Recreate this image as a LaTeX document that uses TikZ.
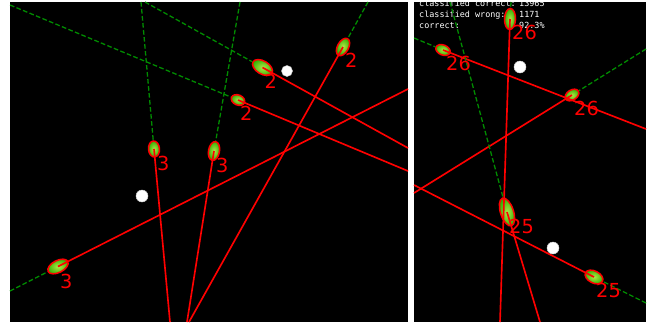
\documentclass[tikz,border=0pt]{standalone}
\usepackage{fontspec}
\setmainfont{DejaVu Sans}
\newfontfamily\statfont{DejaVu Sans Mono}
\usetikzlibrary{shapes.geometric}
\newlength\pxu
\setlength\pxu{0.03cm}
\definecolor{hintgreen}{RGB}{0,140,0}
\definecolor{blobinner}{RGB}{175,230,70}
\definecolor{blobouter}{RGB}{50,175,0}
\tikzset{
  blob/.style={ellipse, draw=red, line width=1.3pt, inner sep=0pt, shading=radial, inner color=blobinner, outer color=blobouter},
  redline/.style={red, line width=1.4pt},
  greenline/.style={hintgreen, dash pattern=on 4pt off 2pt, line width=1.1pt},
  tally/.style={text=red, font=\fontsize{16.5}{17}\selectfont, anchor=base west, inner sep=0pt},
  whitedot/.style={circle, fill=white, draw=gray!40, inner sep=0pt, minimum size=11\pxu},
  stats/.style={text=white, font=\statfont\fontsize{7.2}{8}\selectfont, anchor=base west, inner sep=0pt}
}
\begin{document}
\begin{tikzpicture}[x=\pxu, y=-\pxu]
    \useasboundingbox (0,0) rectangle (654,322);
    \fill[white] (0,0) rectangle (654,322);
    \fill[black] (10,2) rectangle (408,322);
    \fill[black] (414,2) rectangle (646,322);

    % counters in the right panel
    \begin{scope}
        \clip (414,2) rectangle (646,322);
        \node[stats] (s1) at (419,6) {classified correct:};
        \node[stats] (v1) at (519,6) {13965};
        \node[stats] (s2) at (419,17) {classified wrong:};
        \node[stats] (v2) at (519,17) {1171};
        \node[stats] (s3) at (419,28) {correct:};
        \node[stats] (v3) at (519,28) {92.3\%};
    \end{scope}

    % left panel
    \node[blob, minimum width=22\pxu, minimum height=13\pxu, rotate=-31] (e1) at (262.5,67.5) {};
    \node[blob, minimum width=19\pxu, minimum height=11\pxu, rotate=61] (e2) at (343,47) {};
    \node[blob, minimum width=14\pxu, minimum height=10\pxu, rotate=-23] (e3) at (238,100) {};
    \node[blob, minimum width=16\pxu, minimum height=11\pxu, rotate=-85] (e4) at (154,149) {};
    \node[blob, minimum width=19\pxu, minimum height=11\pxu, rotate=80] (e5) at (214,151) {};
    \node[blob, minimum width=22\pxu, minimum height=12\pxu, rotate=27] (e6) at (58,266.5) {};

    \coordinate (g1) at (145,2);   \coordinate (r1) at (408,148);
    \coordinate (g2) at (368,2);   \coordinate (r2) at (189,322);
    \coordinate (g3) at (10,5);    \coordinate (r3) at (408,171);
    \coordinate (g4) at (141,2);   \coordinate (r4) at (170,322);
    \coordinate (g5) at (240,2);   \coordinate (r5) at (187,322);
    \coordinate (g6) at (10,291);  \coordinate (r6) at (408,89);

    % right panel
    \node[blob, minimum width=21\pxu, minimum height=11\pxu, rotate=88] (e7) at (510,19) {};
    \node[blob, minimum width=15\pxu, minimum height=10\pxu, rotate=-22] (e8) at (443,50) {};
    \node[blob, minimum width=15\pxu, minimum height=10\pxu, rotate=32] (e9) at (572,95) {};
    \node[blob, minimum width=29\pxu, minimum height=13\pxu, rotate=-72] (e10) at (507,212) {};
    \node[blob, minimum width=19\pxu, minimum height=12\pxu, rotate=-27] (e11) at (594,277) {};

    \coordinate (g7) at (511,2);   \coordinate (r7) at (500,322);
    \coordinate (g8) at (414,38);  \coordinate (r8) at (646,129);
    \coordinate (g9) at (646,49);  \coordinate (r9) at (414,193);
    \coordinate (g10) at (450,2);  \coordinate (r10) at (540,322);
    \coordinate (g11) at (646,303); \coordinate (r11) at (414,185);

    \foreach \i in {1,...,11} {
        \draw[greenline] (g\i) -- (e\i);
        \draw[redline] (e\i.center) -- (r\i);
    }

    % labels
    \node[tally] (n1) at ([shift={(2,20.5)}]e1.center) {2};
    \node[tally] (n2) at ([shift={(2,20.5)}]e2.center) {2};
    \node[tally] (n3) at ([shift={(2,20.5)}]e3.center) {2};
    \node[tally] (n4) at ([shift={(3,21.5)}]e4.center) {3};
    \node[tally] (n5) at ([shift={(2,21)}]e5.center) {3};
    \node[tally] (n6) at ([shift={(2,21.5)}]e6.center) {3};
    \node[tally] (n7) at ([shift={(2,20)}]e7.center) {26};
    \node[tally] (n8) at ([shift={(3,20)}]e8.center) {26};
    \node[tally] (n9) at ([shift={(2,20)}]e9.center) {26};
    \node[tally] (n10) at ([shift={(2,21)}]e10.center) {25};
    \node[tally] (n11) at ([shift={(2,20)}]e11.center) {25};

    % sample points
    \node[whitedot] (p1) at (287,71) {};
    \node[whitedot, minimum size=12\pxu] (p2) at (142,196) {};
    \node[whitedot, minimum size=12\pxu] (p3) at (520,67) {};
    \node[whitedot, minimum size=12\pxu] (p4) at (553,248) {};
\end{tikzpicture}
\end{document}
